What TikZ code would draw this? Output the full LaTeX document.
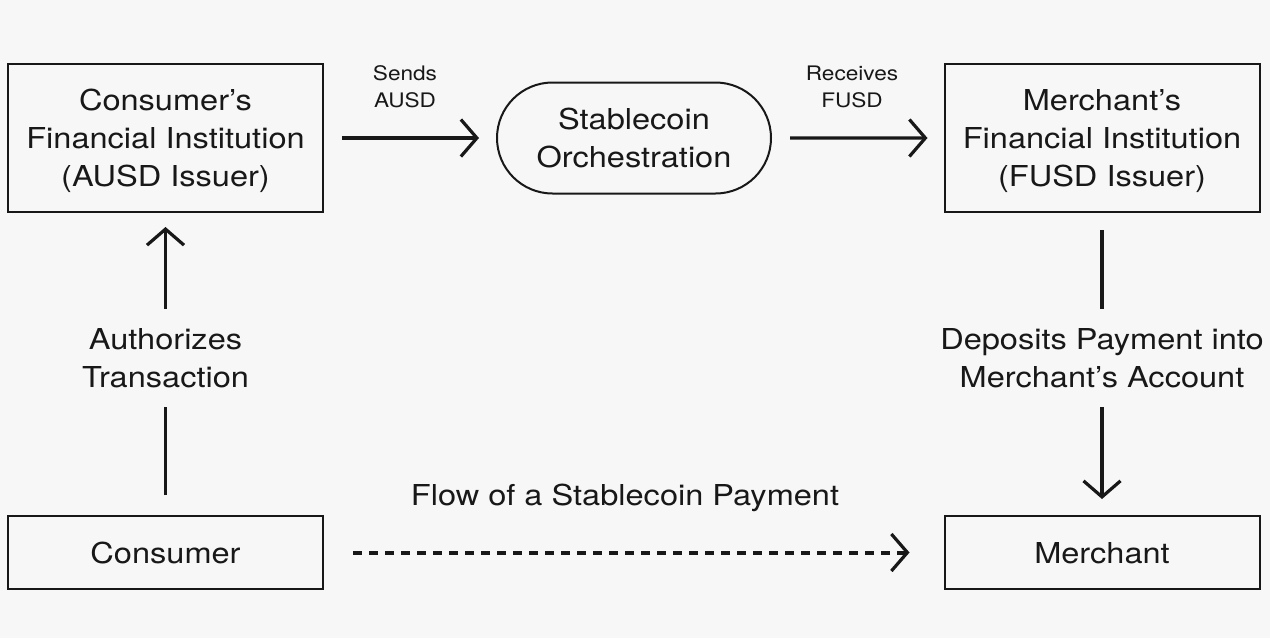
\documentclass[tikz,border=0pt]{standalone}
\usepackage{fontspec}
\setmainfont[FakeStretch=1.13]{TeX Gyre Heros}
\usetikzlibrary{arrows.meta,positioning,shapes.misc}
\definecolor{bg}{RGB}{247,247,247}
\definecolor{ink}{RGB}{24,24,24}
\begin{document}
\begin{tikzpicture}[x=0.5pt,y=-0.5pt]

\tikzset{
    box/.style={draw=ink,line width=1pt,minimum width=157.5pt,minimum height=#1,inner sep=0pt,
        text depth=0pt,align=center,font=\fontsize{14.4}{19}\selectfont,text=ink},
    pill/.style={draw=ink,line width=1pt,rounded rectangle,minimum width=137pt,minimum height=55.5pt,
        inner sep=0pt,align=center,font=\fontsize{14.4}{19}\selectfont,text=ink},
    lbl/.style={align=center,font=\fontsize{14.4}{19}\selectfont,text=ink,inner xsep=0pt,inner ysep=9.5pt},
    sml/.style={align=center,font=\fontsize{10}{13.5}\selectfont,text=ink,inner sep=0pt},
    flow/.style={draw=ink,line width=1.6pt,-{Straight Barb[length=8pt,width=18.5pt,line width=1.6pt]}},
    seg/.style={draw=ink,line width=1.6pt}}

\fill[bg] (0,0) rectangle (1270,638);
\useasboundingbox (0,0) rectangle (1270,638);

\node[box=74pt] (cfi) at (165.5,138) {Consumer’s\\Financial Institution\\(AUSD Issuer)};
\node[pill] (orch) at (634,138) {Stablecoin\\Orchestration};
\node[box=74pt] (mfi) at (1102,138) {Merchant’s\\Financial Institution\\(FUSD Issuer)};
\node[box=36.5pt] (con) at (165.5,552.5) {Consumer};
\node[box=36.5pt] (mer) at (1102,552.5) {Merchant};

\node[sml] (send) at (405,87) {Sends\\AUSD};
\node[sml] (recv) at (852,87) {Receives\\FUSD};
\node[lbl] (auth) at (165.5,358) {Authorizes\\Transaction};
\node[lbl] (dep) at (1102,358) {Deposits Payment into\\Merchant’s Account};
\node[sml,font=\fontsize{14.4}{19}\selectfont] (note) at (625,498) {Flow of a Stablecoin Payment};

\draw[flow,shorten <=9pt,shorten >=8.5pt] (cfi) -- (orch);
\draw[flow,shorten <=9pt,shorten >=8pt] (orch) -- (mfi);
\draw[seg,shorten <=10pt] (con) -- (auth);
\draw[flow,shorten >=7pt] (auth) -- (cfi);
\draw[seg,shorten <=8.5pt] (mfi) -- (dep);
\draw[flow,shorten >=8pt] (dep) -- (mer);
\draw[flow,line width=2pt,dash pattern=on 4.5pt off 3.5pt,shorten <=14.5pt,shorten >=17pt] (con) -- (mer);

\end{tikzpicture}
\end{document}
